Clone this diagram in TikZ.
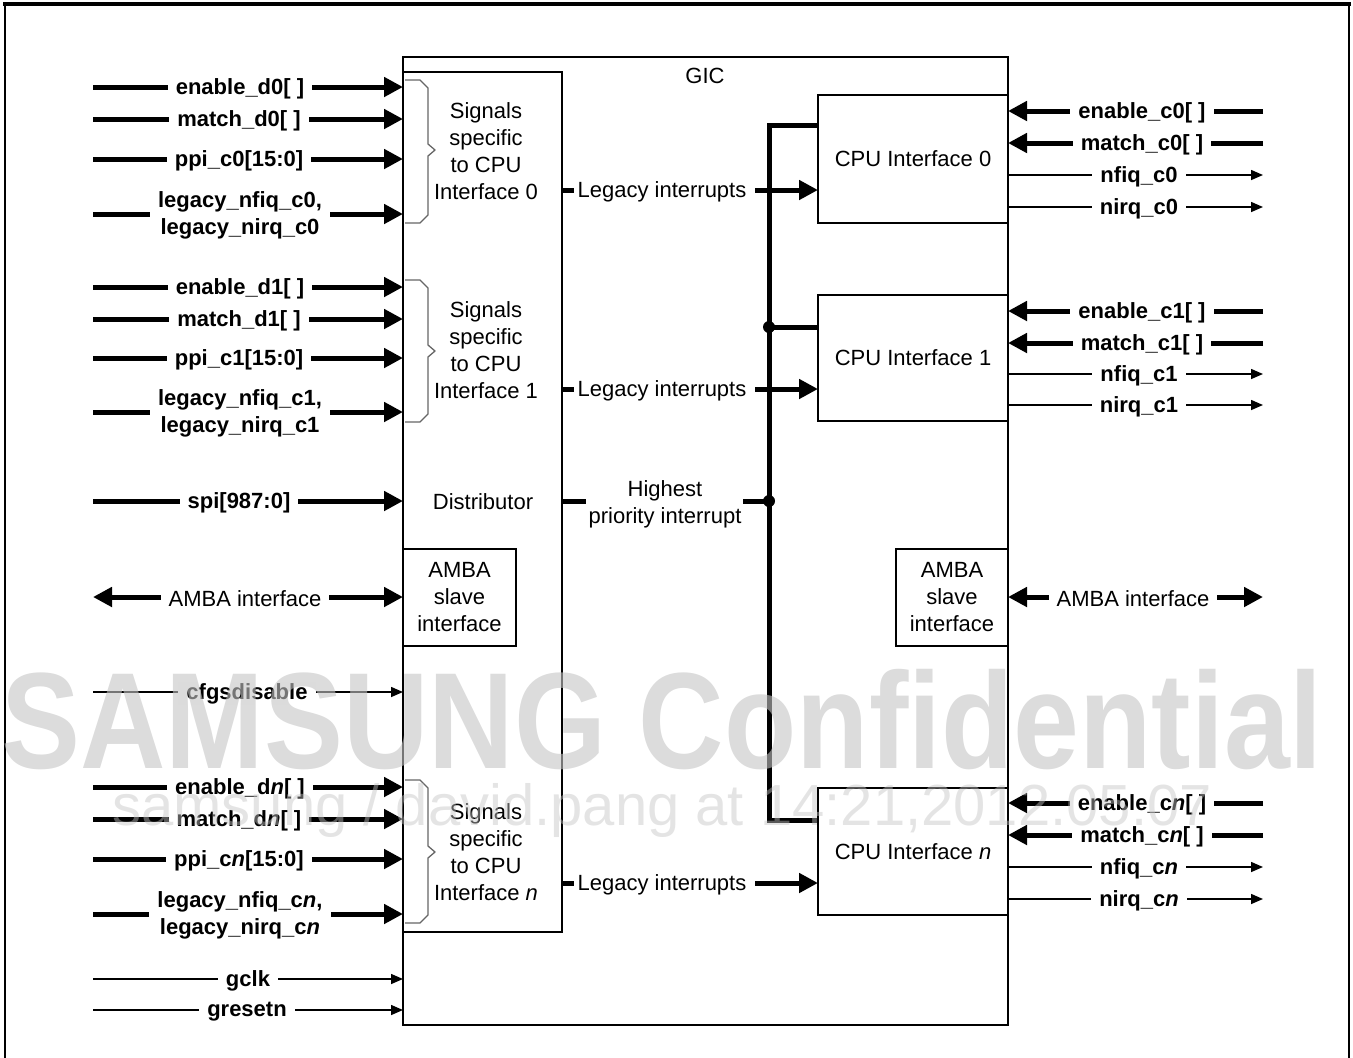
\documentclass[tikz,border=0pt]{standalone}
\usepackage{fontspec}
\setmainfont{Liberation Sans}
\usetikzlibrary{arrows.meta}
\newcommand\lblfont{\bfseries\fontsize{22}{27}\selectfont}
\newcommand\txtfont{\fontsize{22}{27}\selectfont}
\definecolor{wmcol}{RGB}{196,196,196}
\begin{document}
\begin{tikzpicture}[x=1pt,y=-1pt,
  box/.style={draw, line width=1.5pt, inner sep=0pt, outer sep=0pt},
  thk/.style={line width=5pt},
  thka/.style={line width=5pt, -{Triangle[length=19pt,width=19pt]}},
  thkaa/.style={line width=5pt, {Triangle[length=19pt,width=19pt]}-{Triangle[length=19pt,width=19pt]}},
  thn/.style={line width=1.5pt, -{Triangle[length=12pt,width=10pt]}},
  sig/.style={fill=white, inner xsep=8pt, inner ysep=1pt, font=\lblfont, align=center, yshift=-1.5pt},
  rsig/.style={fill=white, inner xsep=8pt, inner ysep=1pt, font=\txtfont, align=center, yshift=-1.5pt},
  txt/.style={font=\txtfont, align=center, inner sep=0pt},
  brc/.style={draw=black!60, line width=1.3pt, line join=round},
  jdot/.style={circle, fill, inner sep=0pt, minimum size=12pt},
  wm/.style={text=wmcol, opacity=0.6, inner sep=0pt, anchor=base west}
]
\useasboundingbox (0,0) rectangle (1353,1058);
% frame
\draw[line width=4pt] (3,4) -- (1351,4);
\draw[line width=1.8pt] (5,4) -- (5,1058);
\draw[line width=1.8pt] (1349,4) -- (1349,1058);

% boxes
\node[box, minimum width=605pt, minimum height=968pt] (gic) at (705.5,541) {};
\node[box, minimum width=159pt, minimum height=860pt] (dist) at (482.5,502) {};
\node[box, minimum width=190pt, minimum height=128pt, font=\txtfont] (cpu0) at (913,159) {CPU Interface 0};
\node[box, minimum width=190pt, minimum height=126pt, font=\txtfont] (cpu1) at (913,358) {CPU Interface 1};
\node[box, minimum width=190pt, minimum height=127pt, font=\txtfont] (cpun) at (913,851.5) {CPU Interface \textit{n}};
\node[box, minimum width=113pt, minimum height=97pt, font=\txtfont, align=center] (ambaL) at (459.5,597.5) {AMBA\\slave\\interface};
\node[box, minimum width=112pt, minimum height=97pt, font=\txtfont, align=center] (ambaR) at (952,597.5) {AMBA\\slave\\interface};

\node[txt] (gicl) at (705,76) {GIC};
\node[txt] (ss0) at (486,151) {Signals\\specific\\to CPU\\Interface 0};
\node[txt] (ss1) at (486,350.5) {Signals\\specific\\to CPU\\Interface 1};
\node[txt] (ssn) at (486,852) {Signals\\specific\\to CPU\\Interface \textit{n}};
\node[txt] (distl) at (483,502) {Distributor};

% braces
\newcommand\gbrace[3]{%
  \draw[brc] (405,#1) -- (420,#1) -- (428,{#1+8}) -- (428,{#2-6}) -- (435,#2) -- (428,{#2+6}) -- (428,{#3-8}) -- (420,#3) -- (405,#3);}
\gbrace{80}{150}{223}
\gbrace{280}{351}{422}
\gbrace{780}{852}{923}

% bus
\draw[thk, line join=miter] (cpu0.west |- 0,125) -- (769,125) coordinate (bt) -- (769,820) coordinate (bb) -- (cpun.west |- 0,820);
\draw[thk] (769,327) coordinate (b1) -- (cpu1.west |- 0,327);
\node[jdot] (j1) at (b1) {};
\node[txt] (hpi) at (665,504) {Highest\\priority interrupt};
\draw[thk] (dist.east |- 0,501) -- (586,501);
\draw[thk] (743,501) -- (769,501) coordinate (b2);
\node[jdot] (j2) at (b2) {};

% legacy interrupts
\newcommand\legacy[2]{%
  \draw[thk] (dist.east |- 0,#1) -- ++(12,0);
  \node[txt] (leg#1) at (662,{#1+1.5}) {Legacy interrupts};
  \draw[thka] (755,#1) -- (#2.west |- 0,#1);}
\legacy{190}{cpu0}
\legacy{389}{cpu1}
\legacy{883}{cpun}

% left inputs
\newcommand\lin[4]{% style, y, label x, label
  \draw[#1] (93,#2) coordinate (ls#2) -- (ls#2 -| gic.west);
  \node[sig] (ll#2) at (#3,#2) {#4};}
\lin{thka}{87}{240}{enable\_d0[ ]}
\lin{thka}{119}{239}{match\_d0[ ]}
\lin{thka}{159}{239}{ppi\_c0[15:0]}
\lin{thka}{214}{240}{legacy\_nfiq\_c0,\\legacy\_nirq\_c0}
\lin{thka}{287}{240}{enable\_d1[ ]}
\lin{thka}{319}{239}{match\_d1[ ]}
\lin{thka}{358}{239}{ppi\_c1[15:0]}
\lin{thka}{412}{240}{legacy\_nfiq\_c1,\\legacy\_nirq\_c1}
\lin{thka}{501}{239}{spi[987:0]}
\lin{thn}{692}{247}{cfgsdisable}
\lin{thka}{787}{240}{enable\_d\textit{n}[ ]}
\lin{thka}{819}{239}{match\_d\textit{n}[ ]}
\lin{thka}{859}{239}{ppi\_c\textit{n}[15:0]}
\lin{thka}{914}{240}{legacy\_nfiq\_c\textit{n},\\legacy\_nirq\_c\textit{n}}
\lin{thn}{979}{248}{gclk}
\lin{thn}{1010}{247}{gresetn}
% left AMBA
\draw[thkaa] (93,597) coordinate (la) -- (la -| gic.west);
\node[rsig] (lal) at (245,597) {AMBA interface};

% right side
\newcommand\rin[3]{% y, label x, label
  \draw[thka] (1263,#1) coordinate (rs#1) -- (rs#1 -| gic.east);
  \node[sig] (rl#1) at (#2,#1) {#3};}
\newcommand\rout[3]{%
  \draw[thn] (gic.east |- 0,#1) -- (1263,#1) coordinate (rs#1);
  \node[sig] (rl#1) at (#2,#1) {#3};}
\rin{111}{1142}{enable\_c0[ ]}
\rin{143}{1142}{match\_c0[ ]}
\rout{175}{1139}{nfiq\_c0}
\rout{207}{1139}{nirq\_c0}
\rin{311}{1142}{enable\_c1[ ]}
\rin{343}{1142}{match\_c1[ ]}
\rout{374}{1139}{nfiq\_c1}
\rout{405}{1139}{nirq\_c1}
\rin{803}{1142}{enable\_c\textit{n}[ ]}
\rin{835}{1142}{match\_c\textit{n}[ ]}
\rout{867}{1139}{nfiq\_c\textit{n}}
\rout{899}{1139}{nirq\_c\textit{n}}
\draw[thkaa] (gic.east |- 0,597) -- (1263,597) coordinate (ra);
\node[rsig] (ral) at (1133,597) {AMBA interface};

% watermark
\node[wm, font=\bfseries\fontsize{137}{137}\selectfont] (wm1) at (1,768) {\scalebox{0.864}[1]{SAMSUNG Confidential}};
\node[wm, font=\fontsize{58}{58}\selectfont, opacity=0.45] (wm2) at (112,825) {samsung / david.pang at 14:21,2012.05.07};
\end{tikzpicture}
\end{document}
